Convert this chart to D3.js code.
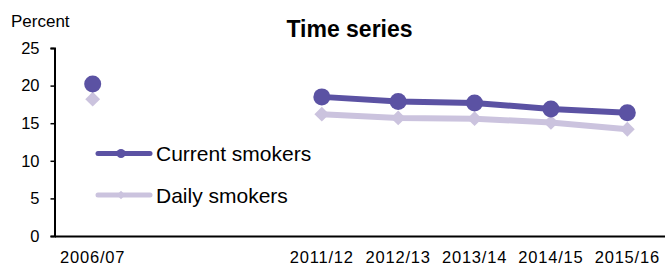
<!DOCTYPE html>
<html>
<head>
<meta charset="utf-8">
<script src="https://cdn.jsdelivr.net/npm/d3@7"></script>
<style>
  body { margin: 0; background: #fff; }
  text { font-family: "Liberation Sans", Arial, sans-serif; }
</style>
</head>
<body>
<svg width="665" height="266"></svg>
<script>
  var categories = ['2006/07', 'gap1', 'gap2', '2011/12', '2012/13', '2013/14', '2014/15', '2015/16'];
  var years = ['2006/07', '2011/12', '2012/13', '2013/14', '2014/15', '2015/16'];
  var current = [20.2, 18.5, 17.9, 17.7, 16.9, 16.4];
  var daily = [18.2, 16.2, 15.7, 15.6, 15.1, 14.2];
  var yTicks = [0, 5, 10, 15, 20, 25];

  var svg = d3.select('svg');
  var plotLeft = 54.5, plotRight = 665.5, plotTop = 48, plotBottom = 236;

  var x = d3.scaleBand().domain(categories).range([plotLeft, plotRight]);
  var y = d3.scaleLinear().domain([0, 25]).range([plotBottom, plotTop]);
  var cx = function(c) { return x(c) + x.bandwidth() / 2; };

  // y axis
  var yAxis = svg.append('g')
    .attr('transform', 'translate(' + plotLeft + ',0)')
    .call(d3.axisLeft(y).tickValues(yTicks).tickSize(4).tickPadding(11));
  yAxis.attr('font-size', 16.5).attr('font-family', null);
  yAxis.select('.domain').attr('stroke', '#000').attr('stroke-width', 2);
  yAxis.selectAll('.tick line').attr('stroke-width', 1.5);
  yAxis.selectAll('text').attr('fill', '#000');

  // x axis
  var xAxis = svg.append('g')
    .attr('transform', 'translate(0,' + plotBottom + ')')
    .call(d3.axisBottom(x).tickSize(0).tickPadding(15)
      .tickFormat(function(d) { return d.indexOf('gap') === 0 ? '' : d; }));
  xAxis.attr('font-size', 16.5).attr('font-family', null);
  xAxis.select('.domain').attr('stroke', '#000').attr('stroke-width', 2);
  xAxis.selectAll('text').attr('fill', '#000').attr('letter-spacing', 0.8);

  svg.append('text').attr('x', 11).attr('y', 26.5).attr('font-size', 17).text('Percent');
  svg.append('text').attr('x', 349.5).attr('y', 37).attr('text-anchor', 'middle')
    .attr('font-size', 23).attr('font-weight', 'bold').text('Time series');

  var dailyColor = '#cbc3de', currentColor = '#5b52a3';

  var line = d3.line()
    .x(function(d) { return cx(d.year); })
    .y(function(d) { return y(d.value); });

  function pts(vals) {
    return years.map(function(yr, i) { return { year: yr, value: vals[i] }; });
  }
  var dailyPts = pts(daily), currentPts = pts(current);

  // daily (drawn underneath)
  svg.append('path').datum(dailyPts.slice(1))
    .attr('d', line).attr('fill', 'none')
    .attr('stroke', dailyColor).attr('stroke-width', 6);
  svg.selectAll('.dmark').data(dailyPts).enter().append('path')
    .attr('class', 'dmark')
    .attr('d', d3.symbol().type(d3.symbolDiamond2).size(140))
    .attr('transform', function(d) { return 'translate(' + cx(d.year) + ',' + y(d.value) + ')'; })
    .attr('fill', dailyColor);

  svg.append('path').datum(currentPts.slice(1))
    .attr('d', line).attr('fill', 'none')
    .attr('stroke', currentColor).attr('stroke-width', 6);
  svg.selectAll('.cmark').data(currentPts).enter().append('circle')
    .attr('class', 'cmark')
    .attr('cx', function(d) { return cx(d.year); })
    .attr('cy', function(d) { return y(d.value); })
    .attr('r', 8.5)
    .attr('fill', currentColor);

  // legend
  var legend = [
    { label: 'Current smokers', color: currentColor, ly: 153.5, circle: true },
    { label: 'Daily smokers', color: dailyColor, ly: 195, circle: false }
  ];
  legend.forEach(function(l) {
    svg.append('line').attr('x1', 98).attr('x2', 150).attr('y1', l.ly).attr('y2', l.ly)
      .attr('stroke', l.color).attr('stroke-width', 5).attr('stroke-linecap', 'round');
    if (l.circle) {
      svg.append('circle').attr('cx', 121).attr('cy', l.ly).attr('r', 4.5).attr('fill', l.color);
    } else {
      svg.append('path').attr('d', d3.symbol().type(d3.symbolDiamond2).size(45))
        .attr('transform', 'translate(121,' + l.ly + ')').attr('fill', l.color);
    }
    svg.append('text').attr('x', 156).attr('y', l.ly + 7.5).attr('font-size', 21)
      .text(l.label);
  });
</script>
</body>
</html>
